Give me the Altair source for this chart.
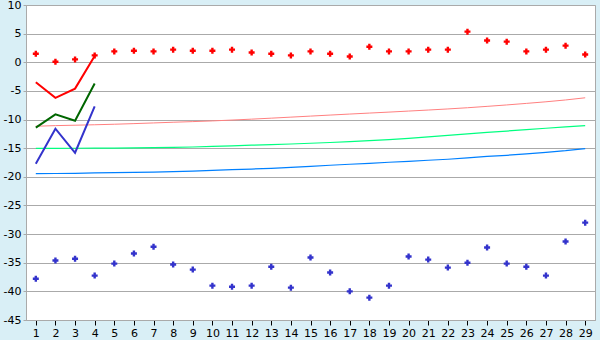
import altair as alt
import pandas as pd

cats = list(range(1, 30))

red_pts = [1.5, 0.1, 0.5, 1.2, 1.9, 2.0, 1.9, 2.2, 2.0, 2.0, 2.2, 1.7, 1.5, 1.2, 1.9,
           1.5, 1.0, 2.7, 1.9, 1.9, 2.2, 2.2, 5.35, 3.8, 3.6, 1.9, 2.2, 2.9, 1.35]
blue_pts = [-37.8, -34.6, -34.3, -37.25, -35.15, -33.4, -32.2, -35.3, -36.2, -39.0,
            -39.2, -39.0, -35.7, -39.35, -34.1, -36.7, -40.0, -41.1, -39.0, -33.9,
            -34.45, -35.85, -35.0, -32.35, -35.15, -35.7, -37.25, -31.3, -28.0]

short_cats = [1, 2, 3, 4]
red_line = [-3.5, -6.2, -4.6, 1.1]
green_line = [-11.4, -9.1, -10.2, -3.7]
blue_line = [-17.7, -11.6, -15.8, -7.7]

red_trend = [-11.17, -11.06, -10.99, -10.91, -10.82, -10.71, -10.59, -10.47, -10.36, -10.24,
             -10.09, -9.93, -9.76, -9.58, -9.40, -9.22, -9.04, -8.87, -8.70, -8.52,
             -8.34, -8.15, -7.94, -7.70, -7.45, -7.18, -6.90, -6.58, -6.20]
green_trend = [-15.02, -15.02, -15.01, -15.0, -14.98, -14.95, -14.90, -14.85, -14.79, -14.70,
               -14.58, -14.48, -14.38, -14.27, -14.14, -14.01, -13.85, -13.68, -13.50, -13.28,
               -13.02, -12.78, -12.51, -12.24, -12.01, -11.76, -11.52, -11.27, -11.05]
blue_trend = [-19.43, -19.42, -19.40, -19.32, -19.26, -19.23, -19.17, -19.09, -19.02, -18.88,
              -18.76, -18.64, -18.52, -18.34, -18.16, -17.98, -17.81, -17.64, -17.46, -17.29,
              -17.11, -16.93, -16.68, -16.43, -16.24, -15.98, -15.72, -15.44, -15.07]

y_ticks = list(range(-45, 11, 5))

x_scale = alt.Scale(domain=[0.5, 29.5], nice=False, zero=False)
y_scale = alt.Scale(domain=[-45, 10], nice=False, zero=False)

x_axis = alt.Axis(values=cats, title=None, grid=False, format="d",
                  domainColor="#aaaaaa", tickColor="#000000", tickSize=5,
                  labelFont="DejaVu Sans", labelFontSize=11, labelColor="#000000",
                  labelPadding=2, labelFlush=False, labelOverlap=False)
y_axis = alt.Axis(values=y_ticks, title=None, grid=True, gridColor="#aaaaaa",
                  domainColor="#aaaaaa", tickColor="#aaaaaa", tickSize=3,
                  labelFont="DejaVu Sans", labelFontSize=11, labelColor="#000000",
                  labelPadding=2, labelFlush=False, labelOverlap=False,
                  labelExpr="replace(format(datum.value, 'd'), '\u2212', '-')")

X = alt.X("cat:Q", scale=x_scale, axis=x_axis)
Y = alt.Y("val:Q", scale=y_scale, axis=y_axis)


def series_df(xs, ys, name):
    return pd.DataFrame({"cat": xs, "val": ys, "series": name})


def line_layer(df, color, width):
    return alt.Chart(df).mark_line(color=color, strokeWidth=width).encode(x=X, y=Y)


def point_layer(df, color):
    return alt.Chart(df).mark_point(shape="cross", filled=True, size=36, color=color,
                                    opacity=1).encode(x=X, y=Y)


layers = [
    line_layer(series_df(cats, red_trend, "red trend"), "#ff8080", 1),
    line_layer(series_df(cats, green_trend, "green trend"), "#00ff80", 1.2),
    line_layer(series_df(cats, blue_trend, "blue trend"), "#0080ff", 1.2),
    line_layer(series_df(short_cats, red_line, "red"), "#ff0000", 2),
    line_layer(series_df(short_cats, green_line, "green"), "#006600", 2),
    line_layer(series_df(short_cats, blue_line, "blue"), "#3333cc", 2),
    point_layer(series_df(cats, red_pts, "red pts"), "#ff0000"),
    point_layer(series_df(cats, blue_pts, "blue pts"), "#3333cc"),
]

chart = alt.layer(*layers).properties(
    width=569,
    height=315,
    background="#d9eff6",
    padding={"left": 26, "top": 5, "right": 5, "bottom": 20},
    autosize=alt.AutoSizeParams(type="none"),
).configure_view(
    fill="#ffffff",
    stroke="#aaaaaa",
    strokeWidth=1,
)

chart.save("out.html", embed_options={"renderer": "svg", "actions": False})
